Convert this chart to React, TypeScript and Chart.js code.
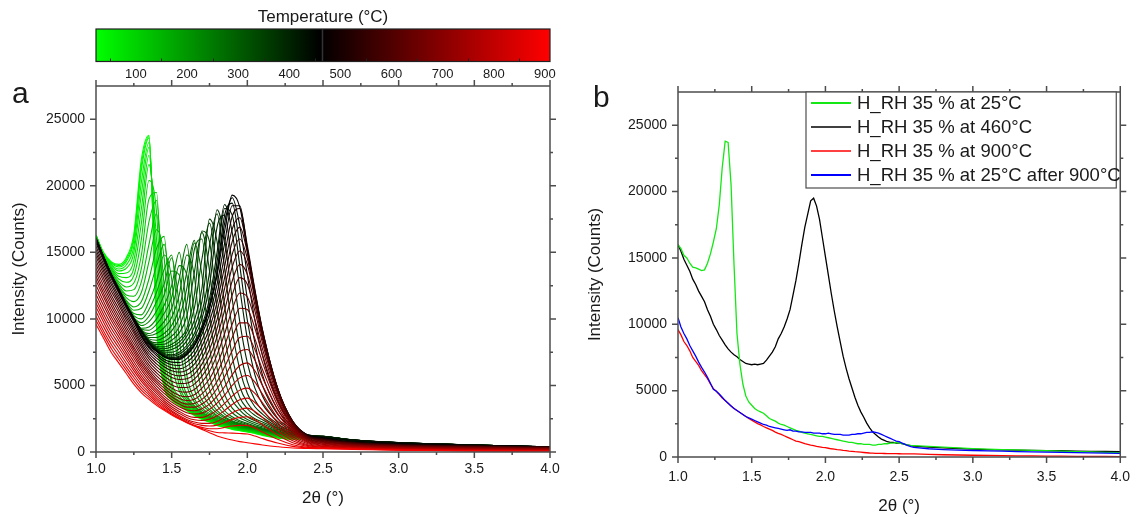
import React, { useEffect, useRef } from "react";
import { Chart, registerables } from "chart.js";

Chart.register(...registerables);

const FONT = "'Liberation Sans', Arial, Helvetica, sans-serif";
const TEXT = "#1a1a1a";
const AXIS = "#4d4d4d";

// ---------- Panel a : 2θ grid and curves (one per temperature) ----------
const XA = [1.0, 1.05, 1.1, 1.15, 1.2, 1.25, 1.3, 1.35, 1.4, 1.45, 1.5, 1.55, 1.6, 1.65, 1.7, 1.75, 1.8, 1.85, 1.9, 1.95, 2.0, 2.05, 2.1, 2.2, 2.3, 2.4, 2.5, 2.7, 3.0, 3.5, 4.0];

const TEMPS = [25, 32, 40, 50, 60, 72, 85, 97, 110, 122, 135, 147, 160, 172, 185, 197, 210, 222, 235, 247, 260, 272, 285, 297, 310, 322, 335, 347, 360, 372, 385, 397, 410, 422, 435, 447, 460, 480, 500, 520, 540, 560, 580, 600, 620, 640, 660, 680, 700, 720, 740, 760, 780, 800, 820, 840, 860, 880, 900];

const A025 = [16300,15000,14300,14100,14600,16400,22000,23800,9300,4900,3900,3500,3100,2750,2450,2250,2000,1850,1700,1600,1500,1400,1250,1050,950,1000,1050,800,630,470,330];
const A032 = [16300,14950,14250,14000,14450,16150,21600,23700,9750,4950,3925,3525,3125,2775,2475,2275,2025,1875,1725,1625,1525,1425,1275,1065,960,1010,1060,805,632,472,332];
const A040 = [16300,14900,14200,13900,14300,15900,21200,23600,10200,5000,3950,3550,3150,2800,2500,2300,2050,1900,1750,1650,1550,1450,1300,1080,970,1020,1070,810,635,475,335];
const A050 = [16280,14850,14100,13750,14050,15450,20300,23250,11300,5250,4000,3575,3175,2825,2525,2325,2075,1925,1775,1675,1575,1475,1325,1090,980,1030,1075,815,638,478,338];
const A060 = [16250,14800,14000,13600,13800,15000,19400,22900,12500,5500,4050,3600,3200,2850,2550,2350,2100,1950,1800,1700,1600,1500,1350,1100,990,1040,1080,820,640,480,340];
const A072 = [16220,14780,13900,13400,13450,14400,18300,22300,14300,5800,4150,3650,3225,2875,2575,2375,2125,1975,1825,1700,1600,1500,1350,1125,1000,1050,1085,825,642,482,342];
const A085 = [16200,14750,13800,13200,13100,13800,17200,21600,16000,6200,4250,3700,3250,2900,2600,2400,2150,2000,1850,1700,1600,1500,1350,1150,1010,1060,1090,830,645,485,345];
const A097 = [16200,14720,13700,13000,12750,13250,16000,20400,18000,7000,4400,3780,3320,2950,2650,2420,2180,2020,1870,1730,1630,1530,1380,1165,1020,1070,1095,835,648,488,348];
const A110 = [16200,14700,13600,12800,12400,12700,14800,19000,19500,8000,4600,3850,3400,3000,2700,2450,2200,2050,1900,1750,1650,1550,1400,1180,1030,1080,1100,840,650,490,350];
const A122 = [16170,14680,13520,12650,12100,12200,13800,17300,18900,10200,5000,4020,3500,3080,2750,2500,2250,2080,1920,1780,1680,1580,1430,1200,1045,1090,1105,845,652,492,352];
const A135 = [16150,14650,13450,12500,11800,11700,12800,15600,17900,12500,5500,4200,3600,3150,2800,2550,2300,2100,1950,1800,1700,1600,1450,1220,1060,1100,1110,850,655,495,355];
const A147 = [16120,14620,13400,12400,11600,11300,12000,14300,16700,14600,7000,4600,3750,3220,2850,2580,2320,2120,1970,1820,1720,1620,1480,1235,1070,1105,1115,852,658,498,358];
const A160 = [16100,14600,13350,12300,11400,10900,11300,13000,15300,16200,8500,5000,3900,3300,2900,2600,2350,2150,2000,1850,1750,1650,1500,1250,1080,1110,1120,855,660,500,360];
const A172 = [16100,14600,13320,12250,11300,10650,10800,12100,14000,15600,11000,5700,4100,3400,2950,2650,2400,2200,2020,1870,1770,1670,1520,1275,1090,1115,1125,858,662,500,360];
const A185 = [16100,14600,13300,12200,11200,10400,10300,11300,12800,14800,13000,6500,4300,3500,3000,2700,2450,2250,2050,1900,1800,1700,1550,1300,1100,1120,1130,860,665,500,360];
const A197 = [16070,14600,13300,12150,11100,10250,10000,10700,12000,13700,14800,8500,5000,3750,3150,2800,2520,2300,2100,1950,1820,1720,1570,1320,1110,1125,1135,862,668,502,362];
const A210 = [16050,14600,13300,12100,11000,10100,9700,10200,11300,12600,14600,11000,5800,4000,3300,2900,2600,2350,2150,2000,1850,1750,1600,1350,1120,1130,1140,865,670,505,365];
const A222 = [16050,14600,13300,12100,11000,10050,9500,9800,10600,11800,13600,13300,8000,4700,3600,3050,2680,2400,2200,2020,1880,1770,1620,1380,1135,1135,1145,868,672,508,365];
const A235 = [16050,14600,13300,12100,11000,10000,9300,9400,10000,11000,12500,15000,10500,5600,3900,3200,2750,2450,2250,2050,1900,1800,1650,1400,1150,1140,1150,870,675,510,365];
const A247 = [16020,14600,13300,12100,11000,10000,9250,9150,9600,10400,11600,14000,13300,7500,4600,3500,2920,2550,2300,2100,1950,1820,1680,1420,1175,1145,1150,872,678,510,368];
const A260 = [16000,14600,13300,12100,11000,10000,9200,8900,9200,9800,10800,13000,15600,10000,5600,3900,3100,2650,2350,2150,2000,1850,1700,1450,1200,1150,1150,875,680,510,370];
const A272 = [16000,14600,13300,12100,11000,10000,9170,8750,8900,9350,10100,11800,14800,13200,7600,4700,3500,2850,2500,2250,2070,1900,1750,1470,1220,1160,1150,878,682,512,370];
const A285 = [16000,14600,13300,12100,11000,10000,9150,8600,8600,8900,9500,10800,13500,15900,10000,5800,4000,3100,2650,2350,2150,1950,1800,1500,1250,1170,1150,880,685,515,370];
const A297 = [16000,14600,13300,12100,11000,10000,9120,8500,8400,8600,9100,10100,12300,15700,13300,7900,5000,3650,2950,2550,2300,2070,1900,1550,1270,1175,1150,882,688,518,372];
const A310 = [16000,14600,13300,12100,11000,10000,9100,8400,8200,8300,8700,9400,11200,15200,16000,10500,6300,4300,3300,2800,2450,2200,2000,1600,1300,1180,1150,885,690,520,375];
const A322 = [16000,14600,13300,12100,11000,10000,9100,8370,8070,8100,8400,8950,10200,13500,16500,13600,8400,5400,3900,3150,2650,2350,2120,1680,1330,1190,1155,888,692,520,375];
const A335 = [16000,14600,13300,12100,11000,10000,9100,8350,7950,7900,8100,8500,9300,11800,16600,15800,10800,6800,4600,3500,2900,2500,2250,1750,1350,1200,1160,890,695,520,375];
const A347 = [16020,14620,13320,12120,11020,10020,9100,8320,7870,7750,7900,8250,9000,10800,14500,17200,13500,8700,5800,4100,3250,2750,2420,1820,1400,1210,1170,892,698,522,378];
const A360 = [16050,14650,13350,12150,11050,10050,9100,8300,7800,7600,7700,8000,8700,9900,12300,17500,15800,11000,7200,4900,3700,3000,2600,1900,1450,1220,1180,895,700,525,380];
const A372 = [16050,14650,13350,12150,11050,10050,9100,8270,7750,7500,7500,7750,8350,9400,11300,15500,17900,13800,9200,6200,4400,3400,2850,2000,1500,1235,1180,898,702,525,380];
const A385 = [16050,14650,13350,12150,11050,10050,9100,8250,7700,7400,7300,7500,8000,8900,10500,13500,18200,16000,11500,7800,5300,3900,3100,2100,1550,1250,1180,900,705,525,380];
const A397 = [16050,14650,13350,12150,11050,10050,9100,8250,7670,7320,7200,7350,7800,8600,10000,12500,16900,17800,14000,9800,6700,4800,3600,2300,1620,1265,1180,902,708,528,382];
const A410 = [16050,14650,13350,12150,11050,10050,9100,8250,7650,7250,7100,7200,7600,8300,9500,11500,15000,18600,16500,12300,8500,5800,4200,2500,1700,1280,1180,905,710,530,385];
const A422 = [16050,14650,13350,12150,11050,10050,9080,8220,7620,7200,7050,7120,7500,8150,9300,11100,14300,18300,17800,14000,9900,7000,5000,2850,1800,1275,1140,902,710,530,388];
const A435 = [16050,14650,13350,12150,11050,10050,9050,8200,7600,7150,7000,7050,7400,8000,9100,10800,13600,17800,18700,15500,11500,8200,5800,3200,1900,1270,1100,900,710,530,390];
const A447 = [16020,14670,13370,12220,11080,10020,8920,8100,7570,7150,6970,7000,7350,8000,9200,10850,13450,17200,19100,17000,13300,9900,7250,3850,2050,1260,1075,820,650,505,395];
const A460 = [16000,14700,13400,12300,11100,10000,8800,8000,7550,7150,6950,6950,7300,8000,9300,10900,13300,16600,19300,18400,15100,11600,8700,4500,2200,1250,1050,740,590,480,400];
const A480 = [15850,14520,13220,12120,10950,9870,8720,7900,7400,6970,6750,6720,7020,7650,8850,10350,12600,15700,18500,18500,15300,11900,8950,4650,2250,1250,1020,730,580,470,390];
const A500 = [15700,14350,13050,11950,10800,9750,8650,7800,7250,6800,6550,6500,6750,7300,8400,9800,11900,14800,17700,18300,15500,12200,9200,4800,2300,1250,1000,720,570,460,380];
const A520 = [15450,14100,12820,11720,10570,9520,8450,7600,7050,6600,6320,6250,6450,6950,7950,9300,11250,13950,16750,17600,15250,12100,9150,4800,2300,1220,975,705,555,450,370];
const A540 = [15200,13850,12600,11500,10350,9300,8250,7400,6850,6400,6100,6000,6150,6600,7500,8800,10600,13100,15800,16900,15000,12000,9100,4800,2300,1200,950,690,540,440,360];
const A560 = [14950,13600,12350,11270,10120,9100,8050,7200,6620,6170,5850,5720,5820,6220,7050,8250,9950,12300,14850,16000,14550,11750,8950,4750,2270,1170,925,675,525,425,345];
const A580 = [14700,13350,12100,11050,9900,8900,7850,7000,6400,5950,5600,5450,5500,5850,6600,7700,9300,11500,13900,15100,14100,11500,8800,4700,2250,1150,900,660,510,410,330];
const A600 = [14400,13070,11820,10770,9650,8650,7620,6770,6170,5700,5320,5150,5170,5470,6150,7150,8650,10650,12850,14100,13350,11050,8500,4550,2170,1100,860,630,485,390,315];
const A620 = [14100,12800,11550,10500,9400,8400,7400,6550,5950,5450,5050,4850,4850,5100,5700,6600,8000,9800,11800,13100,12600,10600,8200,4400,2100,1050,820,600,460,370,300];
const A640 = [13800,12500,11270,10220,9150,8150,7170,6350,5720,5220,4800,4550,4500,4700,5250,6050,7300,8900,10700,11950,11650,9950,7750,4200,2020,1000,780,570,435,350,280];
const A660 = [13500,12200,11000,9950,8900,7900,6950,6150,5500,5000,4550,4250,4150,4300,4800,5500,6600,8000,9600,10800,10700,9300,7300,4000,1950,950,740,540,410,330,260];
const A680 = [13200,11920,10720,9700,8670,7700,6750,5970,5320,4800,4350,4020,3870,3970,4370,5000,5950,7200,8600,9700,9700,8500,6750,3750,1850,910,700,510,385,305,240];
const A700 = [12900,11650,10450,9450,8450,7500,6550,5800,5150,4600,4150,3800,3600,3650,3950,4500,5300,6400,7600,8600,8700,7700,6200,3500,1750,870,660,480,360,280,220];
const A720 = [12550,11320,10170,9200,8200,7270,6350,5600,4950,4400,3950,3600,3370,3370,3600,4050,4750,5650,6700,7550,7700,6900,5600,3200,1620,815,615,445,330,250,195];
const A740 = [12200,11000,9900,8950,7950,7050,6150,5400,4750,4200,3750,3400,3150,3100,3250,3600,4200,4900,5800,6500,6700,6100,5000,2900,1500,760,570,410,300,220,170];
const A760 = [11850,10670,9600,8670,7700,6800,5920,5200,4570,4020,3570,3220,2950,2850,2920,3200,3670,4270,5000,5570,5750,5250,4350,2550,1320,690,520,375,270,190,145];
const A780 = [11500,10350,9300,8400,7450,6550,5700,5000,4400,3850,3400,3050,2750,2600,2600,2800,3150,3650,4200,4650,4800,4400,3700,2200,1150,620,470,340,240,160,120];
const A800 = [11200,10050,9000,8120,7200,6320,5500,4820,4220,3700,3250,2900,2600,2420,2370,2470,2720,3120,3570,3920,4050,3720,3150,1900,1000,550,425,310,215,140,100];
const A820 = [10900,9750,8700,7850,6950,6100,5300,4650,4050,3550,3100,2750,2450,2250,2150,2150,2300,2600,2950,3200,3300,3050,2600,1600,850,480,380,280,190,120,80];
const A840 = [10550,9420,8400,7550,6670,5850,5070,4470,3900,3420,3000,2650,2350,2120,2000,1950,2020,2220,2450,2600,2650,2420,2050,1270,700,415,340,255,175,108,68];
const A860 = [10200,9100,8100,7250,6400,5600,4850,4300,3750,3300,2900,2550,2250,2000,1850,1750,1750,1850,1950,2000,2000,1800,1500,950,550,350,300,230,160,95,55];
const A880 = [9900,8820,7800,6970,6150,5350,4650,4120,3620,3210,2840,2510,2220,1970,1770,1600,1470,1440,1420,1390,1350,1200,1010,670,420,305,270,215,145,82,45];
const A900 = [9600,8550,7500,6700,5900,5100,4450,3950,3500,3130,2780,2470,2200,1950,1700,1450,1200,1040,900,780,700,610,530,400,300,265,245,200,130,70,35];

const CURVES_A = [A025, A032, A040, A050, A060, A072, A085, A097, A110, A122, A135, A147, A160, A172, A185, A197, A210, A222, A235, A247, A260, A272, A285, A297, A310, A322, A335, A347, A360, A372, A385, A397, A410, A422, A435, A447, A460, A480, A500, A520, A540, A560, A580, A600, A620, A640, A660, A680, A700, A720, A740, A760, A780, A800, A820, A840, A860, A880, A900];

// colour bar (temperature axis)
const CB_MIN = 22;
const CB_MAX = 910;
const CB_BLACK = 460;
const CB_MARK = 465;
const CB_TICKS = [100, 200, 300, 400, 500, 600, 700, 800, 900];
const CB_MINOR = [50, 150, 250, 350, 450, 550, 650, 750, 850];

// shared axis ticks
const X_MAJOR = [1.0, 1.5, 2.0, 2.5, 3.0, 3.5, 4.0];
const X_MINOR = [1.25, 1.75, 2.25, 2.75, 3.25, 3.75];
const Y_MAJOR = [0, 5000, 10000, 15000, 20000, 25000];
const Y_MINOR = [2500, 7500, 12500, 17500, 22500];

// ---------- Panel b ----------
const XB = [
  1.00,1.02,1.04,1.06,1.08,1.10,1.12,1.14,1.16,1.18,
  1.20,1.22,1.24,1.26,1.28,1.30,1.32,1.34,1.36,1.38,
  1.40,1.42,1.44,1.46,1.48,1.50,1.52,1.54,1.56,1.58,
  1.60,1.62,1.64,1.66,1.68,1.70,1.72,1.74,1.76,1.78,
  1.80,1.82,1.84,1.86,1.88,1.90,1.92,1.94,1.96,1.98,
  2.00,2.02,2.04,2.06,2.08,2.10,2.12,2.14,2.16,2.18,
  2.20,2.22,2.24,2.26,2.28,2.30,2.32,2.34,2.36,2.38,
  2.40,2.42,2.44,2.46,2.48,2.50,2.52,2.54,2.56,2.58,
  2.60,2.7,2.8,2.9,3.0,3.1,3.2,3.3,3.4,3.5,
  3.6,3.7,3.8,3.9,4.0
];
const B_GREEN = [
  16000,15700,15200,15000,14600,14300,14250,14150,14050,14100,
  14600,15300,16200,17200,19000,21800,23800,23700,20500,14500,
  9300,7000,5500,4600,4150,3900,3650,3500,3400,3300,
  3100,2900,2800,2700,2550,2450,2400,2300,2200,2100,
  2000,1950,1850,1800,1750,1700,1650,1600,1550,1550,
  1500,1450,1400,1350,1300,1250,1200,1150,1100,1100,
  1050,1000,1000,950,950,950,900,900,950,950,
  1000,1000,1050,1050,1100,1050,1000,950,900,850,
  850,800,740,680,630,590,560,530,500,470,
  440,410,380,350,330
];
const B_BLACK = [
  16000,15500,14900,14450,14000,13400,13000,12500,12100,11700,
  11100,10600,10000,9600,9150,8800,8450,8150,7900,7700,
  7550,7350,7200,7050,7000,6950,7000,6950,7000,7050,
  7300,7600,7900,8300,8900,9300,9800,10400,11100,12200,
  13300,14600,16000,17300,18300,19300,19500,18900,17900,16500,
  15100,13700,12300,11000,9800,8700,7600,6700,5900,5200,
  4500,3900,3400,3000,2550,2200,1900,1700,1500,1350,
  1250,1150,1100,1100,1050,1050,1000,950,900,850,
  820,740,680,640,590,560,540,520,500,480,
  470,450,430,420,400
];
const B_RED = [
  9600,9200,8700,8400,8000,7500,7200,6900,6500,6200,
  5900,5500,5150,4950,4700,4450,4250,4050,3850,3650,
  3500,3350,3200,3050,2900,2780,2650,2520,2420,2300,
  2200,2100,2000,1880,1780,1700,1600,1500,1400,1300,
  1200,1150,1080,1000,950,900,860,800,760,720,
  700,660,620,600,560,530,500,480,450,430,
  400,380,360,340,320,300,290,280,275,270,
  265,260,255,250,248,245,242,240,236,233,
  230,200,170,150,130,115,100,90,80,70,
  60,50,45,40,35
];
const B_BLUE = [
  10500,9800,9300,8900,8400,8000,7600,7150,6750,6400,
  6000,5550,5100,4950,4750,4500,4250,4050,3850,3650,
  3500,3350,3200,3050,2950,2850,2750,2650,2550,2450,
  2400,2300,2250,2200,2150,2100,2050,2000,2050,1950,
  1950,1900,1900,1850,1850,1850,1800,1800,1800,1750,
  1750,1800,1750,1700,1700,1700,1650,1650,1650,1700,
  1700,1750,1750,1800,1850,1850,1900,1850,1800,1700,
  1600,1500,1400,1300,1200,1150,1050,950,850,780,
  720,620,560,520,490,460,440,410,390,370,
  350,330,310,290,270
];
const B_LABELS = ["H_RH 35 % at 25°C", "H_RH 35 % at 460°C", "H_RH 35 % at 900°C", "H_RH 35 % at 25°C after 900°C"];
const B_SERIES = [B_GREEN, B_BLACK, B_RED, B_BLUE];
const B_COLORS = ["rgb(20,232,20)", "#000000", "#ff0000", "#0000ff"];
const B_ORDER = [1, 2, 3, 0];

function tempColor(t: number): string {
  if (t <= CB_BLACK) {
    const s = (CB_BLACK - t) / (CB_BLACK - CB_MIN);
    return `rgb(0,${Math.round(255 * s)},0)`;
  }
  const s = (t - CB_BLACK) / (CB_MAX - CB_BLACK);
  return `rgb(${Math.round(255 * s)},0,0)`;
}

function drawFrame(chart: any) {
  const { ctx, chartArea: a } = chart;
  const xs = chart.scales.x;
  const ys = chart.scales.y;
  const MAJ = 6;
  const MIN = 3;
  ctx.save();
  ctx.strokeStyle = AXIS;
  ctx.lineWidth = 1.5;
  ctx.beginPath();
  ctx.rect(a.left, a.top, a.right - a.left, a.bottom - a.top);
  for (const v of X_MAJOR) {
    const p = xs.getPixelForValue(v);
    ctx.moveTo(p, a.bottom); ctx.lineTo(p, a.bottom + MAJ);
    ctx.moveTo(p, a.top); ctx.lineTo(p, a.top - MAJ);
  }
  for (const v of X_MINOR) {
    const p = xs.getPixelForValue(v);
    ctx.moveTo(p, a.bottom); ctx.lineTo(p, a.bottom + MIN);
    ctx.moveTo(p, a.top); ctx.lineTo(p, a.top - MIN);
  }
  for (const v of Y_MAJOR) {
    const p = ys.getPixelForValue(v);
    ctx.moveTo(a.left, p); ctx.lineTo(a.left - MAJ, p);
    ctx.moveTo(a.right, p); ctx.lineTo(a.right + MAJ, p);
  }
  for (const v of Y_MINOR) {
    const p = ys.getPixelForValue(v);
    ctx.moveTo(a.left, p); ctx.lineTo(a.left - MIN, p);
    ctx.moveTo(a.right, p); ctx.lineTo(a.right + MIN, p);
  }
  ctx.stroke();
  ctx.restore();
}

function panelLetter(chart: any, letter: string, x: number, y: number) {
  const ctx = chart.ctx;
  ctx.save();
  ctx.fillStyle = TEXT;
  ctx.font = `30px ${FONT}`;
  ctx.textBaseline = "alphabetic";
  ctx.textAlign = "left";
  ctx.fillText(letter, x, y);
  ctx.restore();
}

const panelAPlugin = {
  id: "panelA",
  afterDraw(chart: any) {
    drawFrame(chart);
    const { ctx } = chart;
    const cb = chart.scales.cb;
    const l = cb.getPixelForValue(CB_MIN);
    const r = cb.getPixelForValue(CB_MAX);
    const bot = cb.bottom - 24.5;
    const top = bot - 32.5;
    ctx.save();
    const g = ctx.createLinearGradient(l, 0, r, 0);
    g.addColorStop(0, tempColor(CB_MIN));
    g.addColorStop((CB_BLACK - CB_MIN) / (CB_MAX - CB_MIN), "rgb(0,0,0)");
    g.addColorStop(1, tempColor(CB_MAX));
    ctx.fillStyle = g;
    ctx.fillRect(l, top, r - l, bot - top);
    ctx.strokeStyle = "#333";
    ctx.lineWidth = 1.5;
    const mk = cb.getPixelForValue(CB_MARK);
    ctx.beginPath();
    ctx.moveTo(mk, top); ctx.lineTo(mk, bot);
    ctx.stroke();
    ctx.strokeStyle = "#222";
    ctx.lineWidth = 1;
    ctx.beginPath();
    for (const v of CB_MINOR) {
      const p = Math.round(cb.getPixelForValue(v)) + 0.5;
      ctx.moveTo(p, bot); ctx.lineTo(p, bot - 3);
    }
    ctx.stroke();
    ctx.lineWidth = 1.2;
    ctx.strokeRect(l, top, r - l, bot - top);
    ctx.restore();
    panelLetter(chart, "a", 12, 103);
  },
};

const panelBPlugin = {
  id: "panelB",
  afterDraw(chart: any) {
    drawFrame(chart);
    const { ctx, chartArea: a } = chart;
    const lx = a.left + 128;
    const ly = a.top;
    const lw = a.right - 4 - lx;
    const lh = 96;
    ctx.save();
    ctx.fillStyle = "#fff";
    ctx.fillRect(lx, ly, lw, lh);
    ctx.strokeStyle = AXIS;
    ctx.lineWidth = 1.2;
    ctx.strokeRect(lx, ly, lw, lh);
    ctx.font = `18.5px ${FONT}`;
    ctx.textBaseline = "middle";
    ctx.textAlign = "left";
    B_LABELS.forEach((lab, i) => {
      const y = ly + 11 + 24 * i;
      ctx.strokeStyle = B_COLORS[i];
      ctx.lineWidth = i === 0 || i === 3 ? 2 : 1.5;
      ctx.beginPath();
      ctx.moveTo(lx + 5, y); ctx.lineTo(lx + 45, y);
      ctx.stroke();
      ctx.fillStyle = TEXT;
      ctx.fillText(lab, lx + 51, y + 1);
    });
    ctx.restore();
    panelLetter(chart, "b", 22, 107);
  },
};

function xScale(height: number, pad: number, titleBottom: number) {
  return {
    type: "linear",
    position: "bottom",
    min: 1,
    max: 4,
    afterBuildTicks: (s: any) => { s.ticks = X_MAJOR.map((v) => ({ value: v })); },
    afterFit: (s: any) => { s.height = height; },
    grid: { display: false, drawTicks: false },
    border: { display: false },
    ticks: { padding: pad, color: TEXT, font: { size: 14, family: FONT }, maxRotation: 0, autoSkip: false, callback: (v: any) => Number(v).toFixed(1) },
    title: { display: true, text: "2θ (°)", color: TEXT, font: { size: 17, family: FONT }, padding: { top: 0, bottom: titleBottom } },
  };
}

function yScale(width: number, pad: number, titlePad: number) {
  return {
    type: "linear",
    position: "left",
    min: 0,
    max: 27500,
    afterBuildTicks: (s: any) => { s.ticks = Y_MAJOR.map((v) => ({ value: v })); },
    afterFit: (s: any) => { s.width = width; },
    grid: { display: false, drawTicks: false },
    border: { display: false },
    ticks: { padding: pad, color: TEXT, font: { size: 14, family: FONT }, autoSkip: false, callback: (v: any) => String(v) },
    title: { display: true, text: "Intensity (Counts)", color: TEXT, font: { size: 17, family: FONT }, padding: { top: titlePad, bottom: 0 } },
  };
}

export default function App() {
  const refA = useRef<HTMLCanvasElement>(null);
  const refB = useRef<HTMLCanvasElement>(null);

  useEffect(() => {
    Chart.defaults.font.family = FONT;
    const chartA = new Chart(refA.current as HTMLCanvasElement, {
      type: "line",
      data: {
        datasets: TEMPS.map((t, i) => ({
          label: `${t} °C`,
          data: XA.map((x, j) => ({ x, y: CURVES_A[i][j] })),
          borderColor: tempColor(t),
          borderWidth: 1.1,
          pointRadius: 0,
          fill: false,
          cubicInterpolationMode: "monotone",
          order: TEMPS.length - i,
        })),
      },
      options: {
        responsive: false,
        animation: false,
        devicePixelRatio: 1,
        events: [],
        layout: { padding: { left: 0, right: 21, top: 0, bottom: 0 } },
        plugins: { legend: { display: false }, tooltip: { enabled: false } },
        scales: {
          x: xScale(65, 9, 8.5),
          y: yScale(96, 11, 9),
          cb: {
            type: "linear",
            axis: "x",
            position: "top",
            min: CB_MIN,
            max: CB_MAX,
            afterBuildTicks: (s: any) => { s.ticks = CB_TICKS.map((v) => ({ value: v })); },
            afterFit: (s: any) => { s.height = 86; },
            grid: { display: false, drawTicks: false },
            border: { display: false },
            ticks: { padding: 4, color: TEXT, font: { size: 13, family: FONT }, maxRotation: 0, autoSkip: false, callback: (v: any) => String(v) },
            title: { display: true, text: "Temperature (°C)", color: TEXT, font: { size: 17, family: FONT }, padding: { top: 7, bottom: 0 } },
          },
        },
      } as any,
      plugins: [panelAPlugin],
    } as any);

    const chartB = new Chart(refB.current as HTMLCanvasElement, {
      type: "line",
      data: {
        datasets: B_SERIES.map((s, i) => ({
          label: B_LABELS[i],
          data: XB.map((x, j) => ({ x, y: s[j] })),
          borderColor: B_COLORS[i],
          borderWidth: 1.3,
          pointRadius: 0,
          fill: false,
          tension: 0,
          order: B_ORDER[i],
        })),
      },
      options: {
        responsive: false,
        animation: false,
        devicePixelRatio: 1,
        events: [],
        layout: { padding: { left: 0, right: 10, top: 92, bottom: 0 } },
        plugins: { legend: { display: false }, tooltip: { enabled: false } },
        scales: {
          x: xScale(60, 12, 0),
          y: yScale(107, 11, 14),
        },
      } as any,
      plugins: [panelBPlugin],
    } as any);

    return () => {
      chartA.destroy();
      chartB.destroy();
    };
  }, []);

  return (
    <div style={{ position: "absolute", left: 0, top: 0, width: 1142, height: 517, background: "#fff" }}>
      <canvas ref={refA} width={571} height={517} style={{ position: "absolute", left: 0, top: 0, width: 571, height: 517 }} />
      <canvas ref={refB} width={571} height={517} style={{ position: "absolute", left: 571, top: 0, width: 571, height: 517 }} />
    </div>
  );
}
